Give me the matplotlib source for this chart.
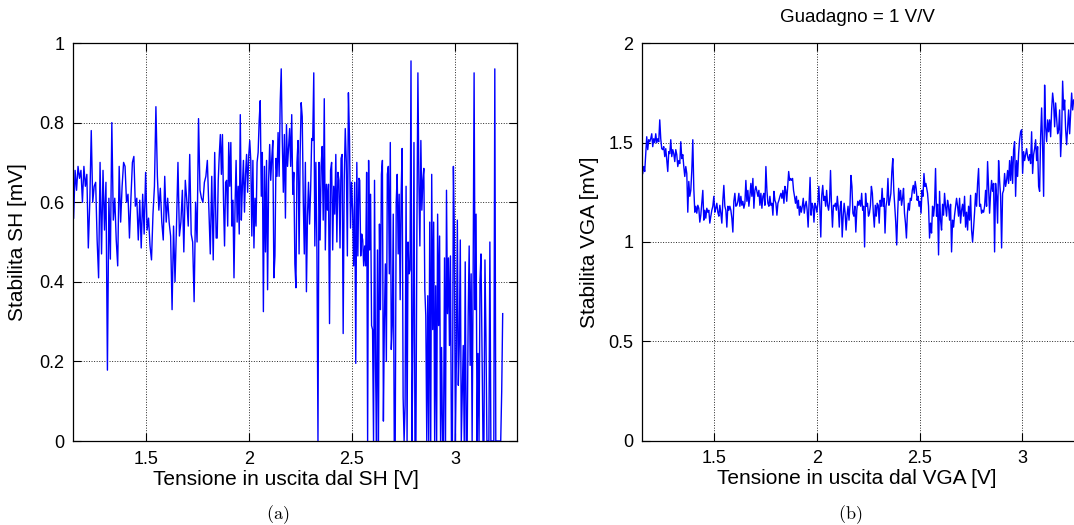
import numpy as np
import matplotlib.pyplot as plt
from matplotlib.ticker import FormatStrFormatter

plt.rcParams['font.family'] = ['Liberation Sans', 'DejaVu Sans']
plt.rcParams['mathtext.fontset'] = 'cm'

# (a) stabilita SH [mV] vs tensione in uscita [V], read in three stretches of the sweep
sh_v_ranges = [(1.149, 1.841), (1.846, 2.534), (2.538, 3.232)]
sh_seg1 = [0.56, 0.68, 0.63, 0.69, 0.66, 0.68, 0.60, 0.69, 0.64, 0.67, 0.485, 0.60, 0.78, 0.60,
           0.64, 0.65, 0.505, 0.41, 0.70, 0.47, 0.68, 0.53, 0.65, 0.178, 0.61, 0.457, 0.80, 0.555,
           0.61, 0.505, 0.44, 0.69, 0.55, 0.64, 0.70, 0.69, 0.60, 0.62, 0.51, 0.61, 0.70, 0.715,
           0.59, 0.61, 0.505, 0.605, 0.485, 0.62, 0.52, 0.675, 0.53, 0.56, 0.49, 0.455, 0.57, 0.64,
           0.84, 0.665, 0.58, 0.635, 0.55, 0.505, 0.665, 0.55, 0.61, 0.55, 0.515, 0.33, 0.54, 0.40,
           0.54, 0.70, 0.515, 0.55, 0.63, 0.475, 0.655, 0.605, 0.54, 0.72, 0.52, 0.50, 0.35, 0.60,
           0.50, 0.81, 0.63, 0.61, 0.60, 0.65, 0.665, 0.705, 0.585, 0.47, 0.665, 0.455, 0.725, 0.51]
sh_seg2 = [0.51, 0.655, 0.72, 0.77, 0.67, 0.77, 0.605, 0.49, 0.65, 0.655, 0.54, 0.75, 0.64, 0.75,
           0.54, 0.605, 0.41, 0.59, 0.705, 0.55, 0.64, 0.52, 0.82, 0.555, 0.64, 0.705, 0.575, 0.67,
           0.72, 0.625, 0.715, 0.755, 0.705, 0.515, 0.705, 0.485, 0.61, 0.54, 0.70, 0.725, 0.805,
           0.855, 0.615, 0.725, 0.325, 0.69, 0.475, 0.705, 0.38, 0.655, 0.745, 0.655, 0.71, 0.755,
           0.41, 0.465, 0.71, 0.665, 0.775, 0.665, 0.85, 0.935, 0.755, 0.625, 0.77, 0.56, 0.795,
           0.69, 0.74, 0.785, 0.69, 0.82, 0.62, 0.675, 0.445, 0.385, 0.70, 0.755, 0.47, 0.72, 0.85,
           0.815, 0.605, 0.47, 0.70, 0.375, 0.565, 0.65, 0.545, 0.63, 0.76, 0.755, 0.925, 0.49,
           0.70, 0.48, 0.0, 0.70, 0.505, 0.69, 0.74, 0.555, 0.86, 0.48, 0.645, 0.58, 0.645, 0.295,
           0.68, 0.70, 0.48, 0.64, 0.57, 0.72, 0.50, 0.675, 0.655, 0.485, 0.71, 0.72, 0.27, 0.655,
           0.785, 0.70, 0.465, 0.875, 0.765, 0.535, 0.65, 0.58, 0.44, 0.65, 0.195, 0.70, 0.465, 0.66]
sh_seg3 = [0.655, 0.465, 0.52, 0.505, 0.44, 0.49, 0.44, 0.675, 0.0, 0.705, 0.48, 0.62, 0.29, 0.28,
           0.0, 0.655, 0.19, 0.0, 0.48, 0.0, 0.545, 0.33, 0.67, 0.705, 0.05, 0.305, 0.445, 0.20,
           0.67, 0.69, 0.42, 0.75, 0.23, 0.29, 0.57, 0.0, 0.0, 0.60, 0.67, 0.47, 0.62, 0.355, 0.62,
           0.735, 0.11, 0.0, 0.09, 0.64, 0.0, 0.50, 0.42, 0.43, 0.955, 0.0, 0.255, 0.75, 0.0, 0.0,
           0.54, 0.925, 0.65, 0.49, 0.755, 0.58, 0.655, 0.685, 0.38, 0.315, 0.0, 0.365, 0.0, 0.55,
           0.0, 0.67, 0.28, 0.55, 0.0, 0.39, 0.0, 0.57, 0.29, 0.515, 0.0, 0.235, 0.0, 0.0, 0.46,
           0.0, 0.63, 0.32, 0.46, 0.24, 0.465, 0.0, 0.0, 0.69, 0.52, 0.0, 0.205, 0.555, 0.14, 0.245,
           0.505, 0.0, 0.12, 0.24, 0.0, 0.45, 0.0, 0.0, 0.315, 0.49, 0.19, 0.42, 0.0, 0.405, 0.925,
           0.33, 0.57, 0.0, 0.22, 0.0, 0.405, 0.47, 0.24, 0.0, 0.0, 0.455, 0.265, 0.0, 0.0, 0.0,
           0.50, 0.0, 0.0, 0.0, 0.0, 0.935, 0.0, 0.0, 0.0, 0.0, 0.0, 0.0, 0.125, 0.32]

# (b) stabilita VGA [mV] vs tensione in uscita [V], guadagno 1 V/V
vga_v_ranges = [(1.151, 1.844), (1.848, 2.531), (2.539, 3.251)]
vga_seg1 = [1.345, 1.38, 1.355, 1.44, 1.53, 1.465, 1.515, 1.505, 1.52, 1.545, 1.48, 1.52, 1.50,
            1.545, 1.50, 1.52, 1.505, 1.615, 1.52, 1.47, 1.465, 1.48, 1.43, 1.47, 1.41, 1.355,
            1.455, 1.445, 1.515, 1.43, 1.465, 1.445, 1.405, 1.465, 1.44, 1.38, 1.41, 1.395, 1.505,
            1.42, 1.44, 1.38, 1.33, 1.38, 1.345, 1.15, 1.305, 1.23, 1.26, 1.36, 1.515, 1.27, 1.15,
            1.18, 1.145, 1.185, 1.17, 1.10, 1.135, 1.195, 1.26, 1.11, 1.16, 1.12, 1.17, 1.15, 1.16,
            1.095, 1.13, 1.16, 1.18, 1.23, 1.15, 1.17, 1.195, 1.15, 1.13, 1.185, 1.145, 1.095, 1.21,
            1.285, 1.18, 1.16, 1.075, 1.18, 1.16, 1.18, 1.16, 1.12, 1.05, 1.205, 1.245, 1.18, 1.185,
            1.205, 1.245, 1.18, 1.23, 1.185, 1.205, 1.17, 1.195, 1.31, 1.205, 1.26, 1.18, 1.23,
            1.295, 1.23, 1.32, 1.17, 1.26, 1.28, 1.255, 1.23, 1.26, 1.185, 1.245, 1.17, 1.23, 1.245,
            1.185, 1.38, 1.26, 1.195, 1.18, 1.23, 1.185, 1.195, 1.135, 1.255, 1.21, 1.195, 1.135,
            1.195, 1.21, 1.23, 1.245, 1.22, 1.26, 1.195, 1.28]
vga_seg2 = [1.26, 1.205, 1.28, 1.355, 1.31, 1.32, 1.31, 1.32, 1.26, 1.23, 1.195, 1.23, 1.17, 1.21,
            1.135, 1.18, 1.15, 1.18, 1.22, 1.145, 1.185, 1.205, 1.16, 1.075, 1.195, 1.325, 1.135,
            1.195, 1.18, 1.10, 1.195, 1.18, 1.15, 1.195, 1.28, 1.18, 1.025, 1.235, 1.285, 1.21,
            1.23, 1.18, 1.26, 1.185, 1.16, 1.205, 1.36, 1.185, 1.075, 1.185, 1.18, 1.195, 1.16,
            1.23, 1.17, 1.075, 1.18, 1.205, 1.025, 1.13, 1.195, 1.145, 1.06, 1.135, 1.18, 1.11,
            1.185, 1.335, 1.28, 1.145, 1.13, 1.18, 1.05, 1.16, 1.205, 1.185, 1.21, 1.18, 1.245,
            1.16, 1.18, 0.975, 1.245, 1.18, 1.195, 1.13, 1.145, 1.185, 1.28, 1.245, 1.145, 1.075,
            1.185, 1.13, 1.195, 1.185, 1.095, 1.21, 1.18, 1.27, 1.18, 1.22, 1.045, 1.18, 1.21, 1.32,
            1.185, 1.21, 1.245, 1.355, 1.42, 1.26, 1.18, 1.10, 0.985, 1.145, 1.27, 1.21, 1.26,
            1.185, 1.22, 1.27, 1.145, 1.095, 1.02, 1.145, 1.195, 1.16, 1.22, 1.21, 1.26, 1.285,
            1.245, 1.305, 1.27, 1.21, 1.23, 1.18, 1.205, 1.145, 1.26, 1.23, 1.345, 1.28, 1.295]
vga_seg3 = [1.245, 1.18, 1.02, 1.095, 1.045, 1.18, 1.13, 1.185, 1.37, 1.13, 1.19, 0.935, 1.255,
            1.11, 1.06, 1.19, 1.135, 1.245, 1.18, 1.13, 1.21, 1.18, 1.11, 1.19, 0.95, 1.11, 1.075,
            1.135, 1.18, 1.22, 1.18, 1.13, 1.22, 1.095, 1.16, 1.19, 1.13, 1.23, 1.075, 1.15, 1.06,
            1.18, 1.11, 1.235, 1.06, 1.00, 1.07, 1.15, 1.245, 1.18, 1.295, 1.37, 1.18, 1.19, 1.145,
            1.16, 1.15, 1.18, 1.26, 1.18, 1.405, 1.28, 1.145, 1.245, 1.31, 1.255, 1.295, 0.95,
            1.295, 1.23, 1.095, 1.41, 1.31, 1.23, 0.97, 1.245, 1.26, 1.345, 1.28, 1.31, 1.36,
            1.295, 1.41, 1.31, 1.43, 1.295, 1.465, 1.505, 1.23, 1.41, 1.33, 1.445, 1.515, 1.555,
            1.565, 1.345, 1.455, 1.41, 1.44, 1.47, 1.43, 1.41, 1.44, 1.395, 1.555, 1.345, 1.44,
            1.47, 1.515, 1.41, 1.48, 1.28, 1.255, 1.53, 1.675, 1.48, 1.23, 1.79, 1.58, 1.505, 1.615,
            1.555, 1.615, 1.53, 1.665, 1.75, 1.70, 1.58, 1.70, 1.625, 1.545, 1.565, 1.665, 1.43,
            1.545, 1.81, 1.665, 1.715, 1.565, 1.49, 1.58, 1.665, 1.545, 1.65, 1.75, 1.665, 1.715]


def sweep(ranges, segments):
    # each stretch of readings is evenly spaced between its two voltages
    x = np.concatenate([np.linspace(a, b, len(s)) for (a, b), s in zip(ranges, segments)])
    y = np.concatenate([np.asarray(s, dtype=float) for s in segments])
    return x, y


def style_axes(ax, ylim, yticks, xlabel, ylabel, xlabel_x, ylabel_x):
    ax.set_xlim(1.146, 3.30)
    ax.set_ylim(*ylim)
    ax.set_xticks([1.5, 2, 2.5, 3])
    ax.set_yticks(yticks)
    ax.xaxis.set_major_formatter(FormatStrFormatter('%g'))
    ax.yaxis.set_major_formatter(FormatStrFormatter('%g'))
    ax.tick_params(direction='in', top=True, right=True, length=6, width=0.8,
                   labelsize=13, pad=6)
    ax.tick_params(axis='x', pad=7)
    ax.grid(True, linestyle=':', color='k', linewidth=0.7, alpha=0.85)
    for sp in ax.spines.values():
        sp.set_linewidth(0.9)
    ax.set_xlabel(xlabel, fontsize=15)
    ax.set_ylabel(ylabel, fontsize=15)
    ax.xaxis.label.set_va('center')
    ax.yaxis.label.set_va('center')
    ax.xaxis.set_label_coords(xlabel_x, -0.096)
    ax.yaxis.set_label_coords(ylabel_x, 0.5)


fig = plt.figure(figsize=(10.74, 5.25), dpi=100)

ax1 = fig.add_axes([73 / 1074, 84 / 525, 443.7 / 1074, 398 / 525])
x, y = sweep(sh_v_ranges, [sh_seg1, sh_seg2, sh_seg3])
ax1.plot(x, y, color='b', linewidth=1.0)
style_axes(ax1, (0, 1), [0, 0.2, 0.4, 0.6, 0.8, 1],
           'Tensione in uscita dal SH [V]', 'Stabilita SH [mV]', 0.479, -0.124)

ax2 = fig.add_axes([641.7 / 1074, 84.4 / 525, 442 / 1074, 397.2 / 525])
x, y = sweep(vga_v_ranges, [vga_seg1, vga_seg2, vga_seg3])
ax2.plot(x, y, color='b', linewidth=1.0)
style_axes(ax2, (0, 2), [0, 0.5, 1, 1.5, 2],
           'Tensione in uscita dal VGA [V]', 'Stabilita VGA [mV]', 0.486, -0.117)
ax2.text(0.487, 1.066, 'Guadagno = 1 V/V', transform=ax2.transAxes,
         ha='center', va='center', fontsize=13.5)

fig.text(278 / 1074, 1 - 515 / 525, r'$\mathrm{(a)}$', ha='center', va='center', fontsize=13)
fig.text(850 / 1074, 1 - 515 / 525, r'$\mathrm{(b)}$', ha='center', va='center', fontsize=13)

fig.savefig('out.png', dpi=100)
